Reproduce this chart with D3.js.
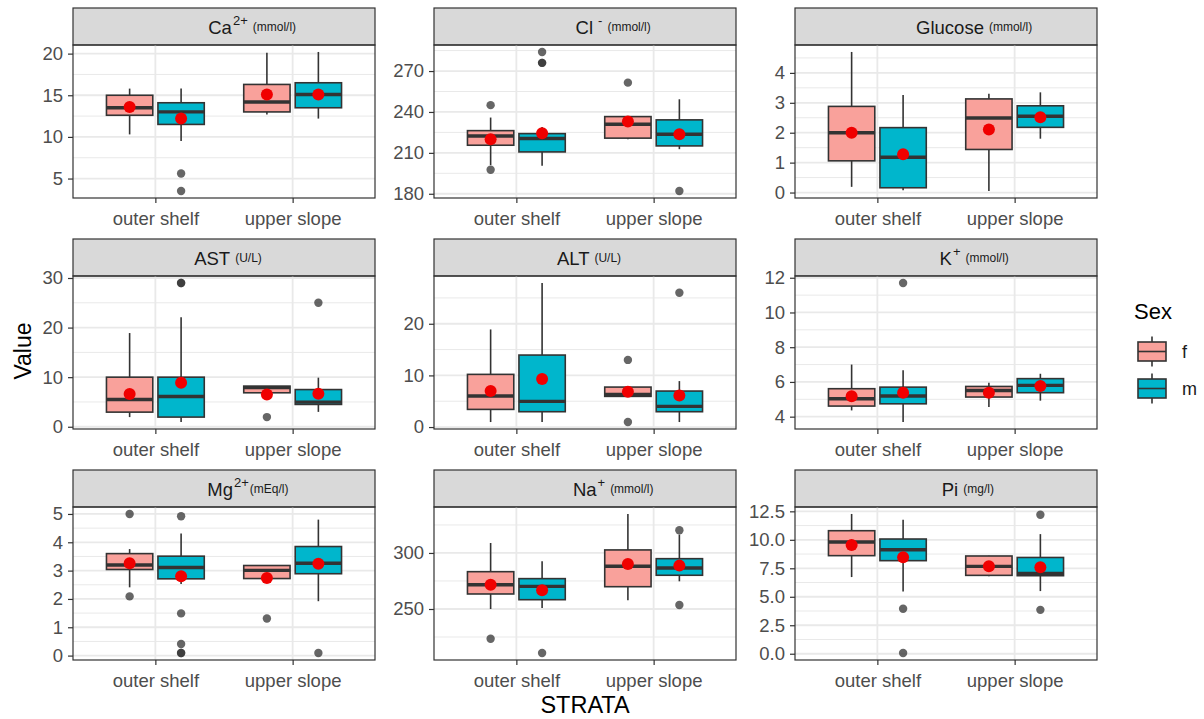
<!DOCTYPE html>
<html>
<head>
<meta charset="utf-8">
<script src="https://cdn.jsdelivr.net/npm/d3@7"></script>
<style>
  body { margin: 0; background: #fff; }
  text { font-family: "Liberation Sans", Arial, sans-serif; }
</style>
</head>
<body>
<svg id="chart" width="1204" height="719"></svg>
<script>
// categories
var strata = ['outer shelf', 'upper slope'],
    sexes = ['f', 'm'];

// facet labels
var analytes = ['Ca', 'Cl', 'Glucose', 'AST', 'ALT', 'K', 'Mg', 'Na', 'Pi'],
    charges = ['2+', '-', '', '', '', '+', '2+', '+', ''],
    units = ['(mmol/l)', '(mmol/l)', '(mmol/l)', '(U/L)', '(U/L)', '(mmol/l)', '(mEq/l)', '(mmol/l)', '(mg/l)'],
    centreWholeLabel = ['AST', 'ALT'];

var tickLabels = [
    ['5', '10', '15', '20'],
    ['180', '210', '240', '270'],
    ['0', '1', '2', '3', '4'],
    ['0', '10', '20', '30'],
    ['0', '10', '20'],
    ['4', '6', '8', '10', '12'],
    ['0', '1', '2', '3', '4', '5'],
    ['250', '300'],
    ['0.0', '2.5', '5.0', '7.5', '10.0', '12.5']
];

// box stats: stratum, sex, lower whisker, q1, median, q3, upper whisker, mean
var caBoxes = [
    ['outer shelf', 'f', 10.3, 12.6, 13.5, 15.0, 15.8, 13.6],
    ['outer shelf', 'm', 9.5, 11.5, 13.0, 14.1, 15.8, 12.2],
    ['upper slope', 'f', 12.7, 13.0, 14.2, 16.3, 20.1, 15.1],
    ['upper slope', 'm', 12.2, 13.5, 15.1, 16.5, 20.2, 15.1]
];
var caOutliers = [['outer shelf', 'm', 5.6], ['outer shelf', 'm', 3.5]];

var clBoxes = [
    ['outer shelf', 'f', 201, 215.6, 222.4, 226.3, 235.9, 220],
    ['outer shelf', 'm', 200.5, 210.7, 220.5, 224.1, 229, 224.4],
    ['upper slope', 'f', 220, 220.8, 231, 236.6, 236.6, 233],
    ['upper slope', 'm', 212.7, 215.1, 223.7, 234.2, 249.3, 223.7]
];
var clOutliers = [['outer shelf', 'f', 245], ['outer shelf', 'f', 197.6],
    ['outer shelf', 'm', 284], ['outer shelf', 'm', 276], ['outer shelf', 'm', 276],
    ['upper slope', 'f', 261.5], ['upper slope', 'm', 182]];

var glucoseBoxes = [
    ['outer shelf', 'f', 0.19, 1.06, 2.0, 2.88, 4.7, 2.0],
    ['outer shelf', 'm', 0.08, 0.16, 1.18, 2.17, 3.26, 1.28],
    ['upper slope', 'f', 0.05, 1.44, 2.49, 3.13, 3.3, 2.11],
    ['upper slope', 'm', 1.8, 2.18, 2.55, 2.9, 3.35, 2.52]
];
var glucoseOutliers = [];

var astBoxes = [
    ['outer shelf', 'f', 1.95, 2.95, 5.5, 10, 18.9, 6.6],
    ['outer shelf', 'm', 0.95, 1.95, 6.1, 10, 22.1, 8.86],
    ['upper slope', 'f', 6.85, 6.85, 7.9, 8.2, 8.2, 6.5],
    ['upper slope', 'm', 3.0, 4.5, 4.97, 7.5, 9.9, 6.65]
];
var astOutliers = [['outer shelf', 'm', 29], ['outer shelf', 'm', 29],
    ['upper slope', 'f', 1.95], ['upper slope', 'm', 25]];

var altBoxes = [
    ['outer shelf', 'f', 0.97, 3.42, 6.0, 10.2, 18.9, 7.0],
    ['outer shelf', 'm', 0.97, 2.97, 4.97, 13.94, 27.9, 9.3],
    ['upper slope', 'f', 5.94, 5.94, 6.3, 7.74, 7.74, 6.84],
    ['upper slope', 'm', 0.97, 2.97, 4.0, 6.97, 8.9, 6.13]
];
var altOutliers = [['upper slope', 'f', 13], ['upper slope', 'f', 0.97], ['upper slope', 'm', 26]];

var kBoxes = [
    ['outer shelf', 'f', 4.36, 4.61, 5.03, 5.61, 7.0, 5.17],
    ['outer shelf', 'm', 3.69, 4.74, 5.19, 5.7, 6.68, 5.38],
    ['upper slope', 'f', 4.55, 5.13, 5.51, 5.74, 5.95, 5.38],
    ['upper slope', 'm', 4.92, 5.38, 5.8, 6.19, 6.47, 5.76]
];
var kOutliers = [['outer shelf', 'm', 11.7]];

var mgBoxes = [
    ['outer shelf', 'f', 2.41, 3.04, 3.2, 3.6, 3.76, 3.26],
    ['outer shelf', 'm', 2.53, 2.71, 3.11, 3.51, 4.31, 2.8],
    ['upper slope', 'f', 2.72, 2.72, 3.01, 3.18, 3.18, 2.74],
    ['upper slope', 'm', 1.92, 2.89, 3.26, 3.85, 4.8, 3.24]
];
var mgOutliers = [['outer shelf', 'f', 5.0], ['outer shelf', 'f', 2.09],
    ['outer shelf', 'm', 4.92], ['outer shelf', 'm', 1.49], ['outer shelf', 'm', 0.41],
    ['outer shelf', 'm', 0.09], ['outer shelf', 'm', 0.09],
    ['upper slope', 'f', 1.31], ['upper slope', 'm', 0.09]];

var naBoxes = [
    ['outer shelf', 'f', 250, 263.4, 271.7, 283.3, 308.9, 271.7],
    ['outer shelf', 'm', 250.9, 258.3, 270.2, 277.1, 292.6, 266.7],
    ['upper slope', 'f', 257.7, 269.9, 288.1, 302.7, 334.8, 290.2],
    ['upper slope', 'm', 274.7, 280.1, 286.6, 294.9, 316.4, 288.7]
];
var naOutliers = [['outer shelf', 'f', 223.5], ['outer shelf', 'm', 210.7],
    ['upper slope', 'm', 320.2], ['upper slope', 'm', 253.6]];

var piBoxes = [
    ['outer shelf', 'f', 6.73, 8.61, 9.81, 10.8, 12.27, 9.54],
    ['outer shelf', 'm', 5.47, 8.17, 9.13, 10.07, 11.77, 8.46],
    ['upper slope', 'f', 6.8, 6.88, 7.67, 8.58, 8.6, 7.67],
    ['upper slope', 'm', 5.5, 6.85, 7.05, 8.45, 10.5, 7.6]
];
var piOutliers = [['outer shelf', 'm', 3.95], ['outer shelf', 'm', 0.06],
    ['upper slope', 'm', 12.2], ['upper slope', 'm', 3.85]];

var boxes = [caBoxes, clBoxes, glucoseBoxes, astBoxes, altBoxes, kBoxes, mgBoxes, naBoxes, piBoxes],
    outliers = [caOutliers, clOutliers, glucoseOutliers, astOutliers, altOutliers, kOutliers, mgOutliers, naOutliers, piOutliers];

// layout
var svg = d3.select('#chart'),
    panelW = 302,
    panelH = 153,
    stripH = 37,
    colX = function(c) { return 73 + c * 361; },
    rowY = function(r) { return 8 + r * 231; },
    fillScale = d3.scaleOrdinal().domain(sexes).range(['#f9a19b', '#00b6cc']),
    ink = '#333333',
    gridColour = '#e9e9e9';

var drawPanel = function(k) {
    var col = k % 3,
        row = Math.floor(k / 3),
        stats = boxes[k],
        outs = outliers[k],
        ticks = tickLabels[k].map(Number);

    var values = [].concat(
        stats.map(function(s) { return s[2]; }),
        stats.map(function(s) { return s[6]; }),
        stats.map(function(s) { return s[7]; }),
        outs.map(function(o) { return o[2]; }));
    var ext = d3.extent(values),
        pad = (ext[1] - ext[0]) * 0.05;

    var y = d3.scaleLinear()
        .domain([ext[0] - pad, ext[1] + pad])
        .range([panelH, 0]);
    var x = d3.scalePoint()
        .domain(strata)
        .range([0, panelW])
        .padding(0.6);
    var step = x.step(),
        boxW = step * 0.3375,
        dodge = d3.scalePoint().domain(sexes).range([-0.1875 * step, 0.1875 * step]);

    // minor breaks halfway between majors, one step past each end if it fits
    var half = (ticks[1] - ticks[0]) / 2,
        minor = [];
    for (var v = ticks[0] - half; v <= ticks[ticks.length - 1] + half + 1e-9; v += half * 2) {
        if (v >= y.domain()[0] && v <= y.domain()[1]) { minor.push(v); }
    }

    // strip
    var strip = svg.append('g')
        .attr('transform', 'translate(' + colX(col) + ',' + rowY(row) + ')');
    strip.append('rect')
        .attr('width', panelW)
        .attr('height', stripH)
        .attr('fill', '#d9d9d9')
        .attr('stroke', ink)
        .attr('stroke-width', 1.2);

    var label = strip.append('text')
            .attr('y', 26)
            .attr('fill', '#1a1a1a'),
        main = label.append('tspan').attr('font-size', 18.5).text(analytes[k]),
        sup = null;
    if (charges[k]) {
        sup = label.append('tspan')
            .attr('font-size', 13)
            .attr('dx', charges[k] === '-' ? 5 : 1)
            .attr('dy', -9)
            .text(charges[k]);
    }
    label.append('tspan')
        .attr('font-size', 12)
        .attr('dx', analytes[k] === 'Mg' ? 1 : 5)
        .attr('dy', charges[k] ? 6 : -3)
        .text(units[k]);

    var labelW;
    if (centreWholeLabel.indexOf(analytes[k]) >= 0) {
        labelW = label.node().getBBox().width;
    } else {
        labelW = main.node().getComputedTextLength() +
            (sup ? sup.node().getComputedTextLength() + +sup.attr('dx') : 0);
    }
    label.attr('x', panelW / 2 - labelW / 2 + 4);

    // panel
    var g = svg.append('g')
        .attr('transform', 'translate(' + colX(col) + ',' + (rowY(row) + stripH) + ')');

    g.selectAll('.minor').data(minor).enter()
      .append('line')
        .classed('minor', true)
        .attr('x1', 0).attr('x2', panelW)
        .attr('y1', y).attr('y2', y)
        .attr('stroke', gridColour)
        .attr('stroke-width', 1);
    g.selectAll('.major').data(ticks).enter()
      .append('line')
        .classed('major', true)
        .attr('x1', 0).attr('x2', panelW)
        .attr('y1', y).attr('y2', y)
        .attr('stroke', gridColour)
        .attr('stroke-width', 1.8);
    g.selectAll('.vmajor').data(strata).enter()
      .append('line')
        .classed('vmajor', true)
        .attr('x1', x).attr('x2', x)
        .attr('y1', 0).attr('y2', panelH)
        .attr('stroke', gridColour)
        .attr('stroke-width', 1.8);

    var cx = function(d) { return x(d[0]) + dodge(d[1]); };

    // whiskers
    g.selectAll('.whiskerHi').data(stats).enter()
      .append('line')
        .attr('x1', cx).attr('x2', cx)
        .attr('y1', function(d) { return y(d[5]); })
        .attr('y2', function(d) { return y(d[6]); })
        .attr('stroke', ink)
        .attr('stroke-width', 1.6);
    g.selectAll('.whiskerLo').data(stats).enter()
      .append('line')
        .attr('x1', cx).attr('x2', cx)
        .attr('y1', function(d) { return y(d[3]); })
        .attr('y2', function(d) { return y(d[2]); })
        .attr('stroke', ink)
        .attr('stroke-width', 1.6);

    // boxes and medians
    g.selectAll('.box').data(stats).enter()
      .append('rect')
        .classed('box', true)
        .attr('x', function(d) { return cx(d) - boxW / 2; })
        .attr('y', function(d) { return y(d[5]); })
        .attr('width', boxW)
        .attr('height', function(d) { return y(d[3]) - y(d[5]); })
        .attr('fill', function(d) { return fillScale(d[1]); })
        .attr('stroke', ink)
        .attr('stroke-width', 1.6);
    g.selectAll('.median').data(stats).enter()
      .append('line')
        .classed('median', true)
        .attr('x1', function(d) { return cx(d) - boxW / 2; })
        .attr('x2', function(d) { return cx(d) + boxW / 2; })
        .attr('y1', function(d) { return y(d[4]); })
        .attr('y2', function(d) { return y(d[4]); })
        .attr('stroke', ink)
        .attr('stroke-width', 3.4);

    // outliers
    g.selectAll('.outlier').data(outs).enter()
      .append('circle')
        .classed('outlier', true)
        .attr('cx', cx)
        .attr('cy', function(d) { return y(d[2]); })
        .attr('r', 4.2)
        .attr('fill', ink)
        .attr('fill-opacity', 0.75);

    // means
    g.selectAll('.mean').data(stats).enter()
      .append('circle')
        .classed('mean', true)
        .attr('cx', cx)
        .attr('cy', function(d) { return y(d[7]); })
        .attr('r', 6)
        .attr('fill', '#f00000');

    g.append('rect')
        .attr('width', panelW)
        .attr('height', panelH)
        .attr('fill', 'none')
        .attr('stroke', ink)
        .attr('stroke-width', 1.2);

    // axes
    var yAxis = g.append('g')
        .call(d3.axisLeft(y)
            .tickValues(ticks)
            .tickFormat(function(d, i) { return tickLabels[k][i]; })
            .tickSize(5)
            .tickPadding(5));
    var xAxis = g.append('g')
        .attr('transform', 'translate(0,' + panelH + ')')
        .call(d3.axisBottom(x).tickSize(5).tickPadding(9));

    [yAxis, xAxis].forEach(function(a) {
        a.select('.domain').remove();
        a.selectAll('line').attr('stroke', ink).attr('stroke-width', 1.2);
        a.selectAll('text')
            .attr('fill', '#4d4d4d')
            .style('font-size', '18.5px')
            .style('font-family', '"Liberation Sans", Arial, sans-serif');
    });
};

analytes.forEach(function(d, k) { drawPanel(k); });

// axis titles
svg.append('text')
    .attr('transform', 'translate(31,351) rotate(-90)')
    .attr('text-anchor', 'middle')
    .attr('font-size', 23)
    .attr('fill', '#000')
    .text('Value');
svg.append('text')
    .attr('x', 585)
    .attr('y', 713)
    .attr('text-anchor', 'middle')
    .attr('font-size', 23.5)
    .attr('fill', '#000')
    .text('STRATA');

// legend
var legend = svg.append('g').attr('transform', 'translate(1134,0)');
legend.append('text')
    .attr('x', 0)
    .attr('y', 319)
    .attr('font-size', 22)
    .attr('fill', '#000')
    .text('Sex');

var keys = legend.selectAll('.key').data(sexes).enter()
  .append('g')
    .classed('key', true)
    .attr('transform', function(d, i) { return 'translate(0,' + (351.5 + i * 37) + ')'; });
keys.append('line')
    .attr('x1', 18).attr('x2', 18)
    .attr('y1', -15).attr('y2', 15)
    .attr('stroke', ink)
    .attr('stroke-width', 1.6);
keys.append('rect')
    .attr('x', 4)
    .attr('y', -9.5)
    .attr('width', 28)
    .attr('height', 19)
    .attr('fill', fillScale)
    .attr('stroke', ink)
    .attr('stroke-width', 1.6);
keys.append('line')
    .attr('x1', 4).attr('x2', 32)
    .attr('y1', 0).attr('y2', 0)
    .attr('stroke', ink)
    .attr('stroke-width', 1.6);
keys.append('text')
    .attr('x', 48)
    .attr('dy', '0.35em')
    .attr('font-size', 18)
    .attr('fill', '#1a1a1a')
    .text(function(d) { return d; });
</script>
</body>
</html>
